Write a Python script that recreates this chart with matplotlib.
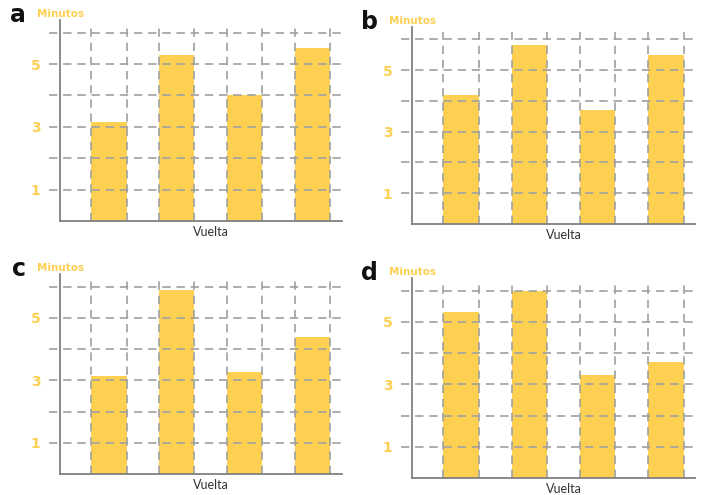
import matplotlib
matplotlib.use('Agg')
import matplotlib.pyplot as plt

# Tiempos por vuelta (minutos) en cada grafico
vueltas = [1, 2, 3, 4]
tiempos_a = [3.15, 5.3, 4.0, 5.5]
tiempos_b = [4.2, 5.8, 3.7, 5.5]
tiempos_c = [3.15, 5.9, 3.25, 4.4]
tiempos_d = [5.3, 6.0, 3.3, 3.7]
etiquetas = ['a', 'b', 'c', 'd']
marcas_y = [1, 3, 5]

amarillo = '#FDD052'
gris = '#A0A0A0'
ancho = 0.52

fig = plt.figure(figsize=(7.03, 4.95), dpi=100)

# [left, bottom, width, height] for each panel
posiciones = [
    [0.0853, 0.5535, 0.401, 0.406],
    [0.586, 0.5475, 0.403, 0.398],
    [0.0853, 0.0424, 0.401, 0.404],
    [0.586, 0.0343, 0.403, 0.404],
]
datos = [tiempos_a, tiempos_b, tiempos_c, tiempos_d]

for pos, tiempos, letra in zip(posiciones, datos, etiquetas):
    ax = fig.add_axes(pos)
    x0, x1 = 0.28, 4.43
    ax.set_xlim(x0, x1)
    ax.set_ylim(0, 6.4)

    ax.bar(vueltas, tiempos, width=ancho, color=amarillo, zorder=1)

    # horizontal dashed grid, sticking out a little left of the axis
    for y in range(1, 7):
        ax.plot([x0 - 0.16, x1], [y, y], color=gris, lw=1.2,
                dashes=(5, 3.5), clip_on=False, zorder=2)
    # vertical dashed lines at the bar edges
    for v in vueltas:
        for xe in (v - ancho / 2, v + ancho / 2):
            ax.plot([xe, xe], [0, 6.25], color=gris, lw=1.2,
                    dashes=(5, 3.5), zorder=2)

    for lado in ['top', 'right']:
        ax.spines[lado].set_visible(False)
    for lado in ['left', 'bottom']:
        ax.spines[lado].set_color('#808080')
        ax.spines[lado].set_linewidth(1.3)
        ax.spines[lado].set_zorder(3)

    ax.set_xticks([])
    ax.set_yticks(marcas_y)
    ax.set_yticklabels([str(m) for m in marcas_y], color=amarillo,
                       fontweight='bold', fontsize=10, family='DejaVu Sans')
    ax.tick_params(axis='y', length=0, pad=14)

    ax.annotate('Vuelta', xy=(2.5, 0), xycoords='data',
                xytext=(0, -5), textcoords='offset pixels',
                ha='center', va='top', fontsize=9, color='#333333',
                family='Lato')
    ax.annotate('Minutos', xy=(0, 1), xycoords='axes fraction',
                xytext=(-23, 3), textcoords='offset pixels',
                ha='left', va='baseline', fontsize=7.5, color=amarillo,
                fontweight='bold', family='DejaVu Sans')
    ax.annotate(letra, xy=(0, 1), xycoords='axes fraction',
                xytext=(-34, -2), textcoords='offset pixels',
                ha='right', va='baseline', fontsize=17, color='#111111',
                fontweight='bold', family='DejaVu Sans')

fig.savefig('out.png', dpi=100)
